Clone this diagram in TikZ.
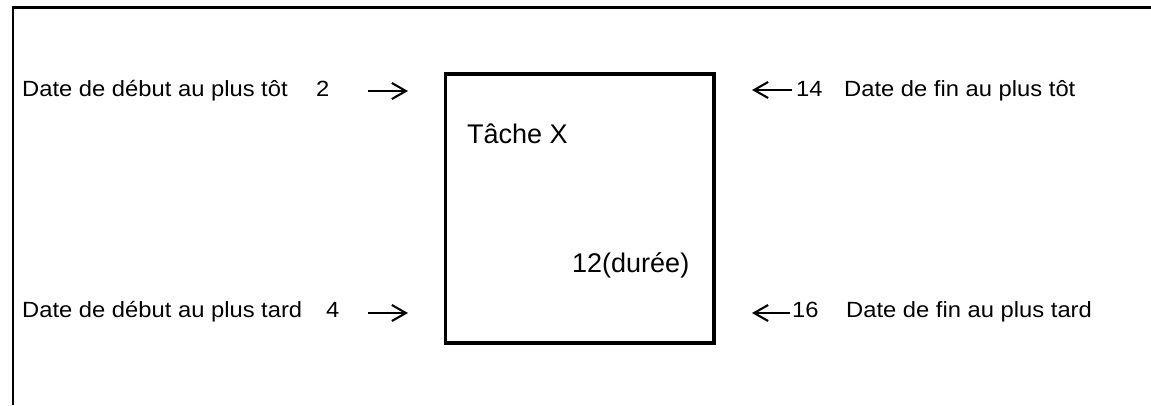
\documentclass[tikz,border=0pt]{standalone}
\usepackage{fontspec}
\setmainfont{Liberation Sans}
\newfontfamily\sidefont{Liberation Sans}[FakeStretch=1.08]
\usetikzlibrary{arrows.meta}

\begin{document}
\begin{tikzpicture}[x=1pt,y=-1pt,
    fleche/.style={line width=2.1pt,-{Straight Barb[length=14pt,width=16pt,line width=2.1pt]}},
    cote/.style={anchor=base west,inner sep=0pt,font=\sidefont\fontsize{22}{26}\selectfont},
    dedans/.style={anchor=base west,inner sep=0pt,font=\fontsize{27}{32}\selectfont}]
    \useasboundingbox (0,0) rectangle (1151,405);
    \draw[line width=2.4pt] (1151,7.5) -- (13,7.5) -- (13,405);
    \node[draw,line width=3.4pt,inner sep=0pt,minimum width=268.5pt,minimum height=269pt] (tache) at (579.75,208.5) {};
    \node[dedans] (nom) at (467,143) {Tâche X};
    \node[dedans] (duree) at (572,272) {12(durée)};
    \node[cote] (debtot) at (22,96.5) {Date de début au plus tôt};
    \node[cote] (ndebtot) at (316,96.5) {2};
    \node[cote] (debtard) at (22,317) {Date de début au plus tard};
    \node[cote] (ndebtard) at (326,317) {4};
    \node[cote] (nfintot) at (796,96.5) {14};
    \node[cote] (fintot) at (844,96.5) {Date de fin au plus tôt};
    \node[cote] (nfintard) at (792,317) {16};
    \node[cote] (fintard) at (846,317) {Date de fin au plus tard};
    \coordinate (debtot-a) at (368,91);
    \coordinate (debtot-b) at (408,91);
    \coordinate (debtard-a) at (368,313);
    \coordinate (debtard-b) at (408,313);
    \coordinate (fintot-a) at (792,90);
    \coordinate (fintot-b) at (752,90);
    \coordinate (fintard-a) at (790,313);
    \coordinate (fintard-b) at (752,313);
    \draw[fleche] (debtot-a) -- (debtot-b);
    \draw[fleche] (debtard-a) -- (debtard-b);
    \draw[fleche] (fintot-a) -- (fintot-b);
    \draw[fleche] (fintard-a) -- (fintard-b);
\end{tikzpicture}
\end{document}
